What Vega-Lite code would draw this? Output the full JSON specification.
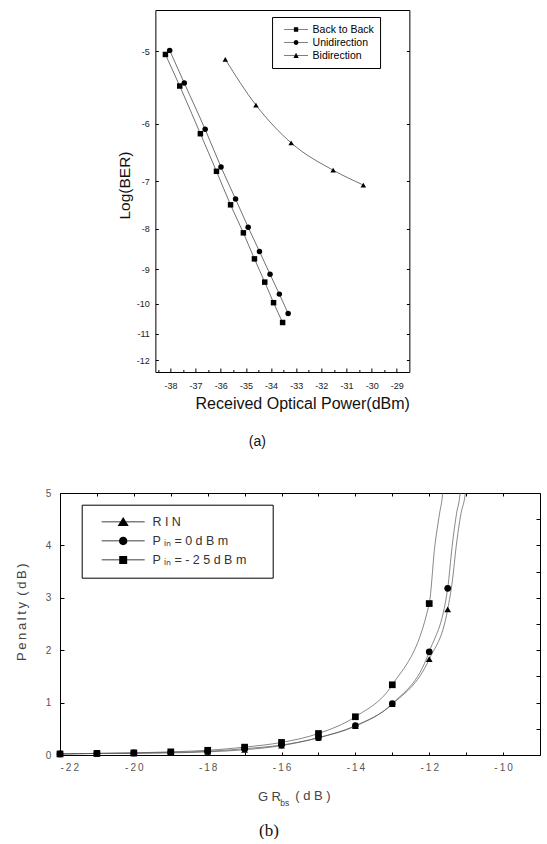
{
  "$schema": "https://vega.github.io/schema/vega-lite/v6.json",
  "background": "white",
  "padding": {"left": 14, "top": 9, "right": 0, "bottom": 0},
  "spacing": 37,
  "center": true,
  "config": {
    "font": "Liberation Sans",
    "view": {"stroke": "black", "strokeWidth": 1},
    "axis": {"grid": false, "domain": false, "tickColor": "black", "labelColor": "#222", "titleFontWeight": "normal", "titleColor": "#111"},
    "legend": {"titleFontWeight": "normal"},
    "locale": {"number": {"decimal": ".", "thousands": ",", "grouping": [3], "currency": ["$", ""], "minus": "-"}}
  },
  "vconcat": [
    {
      "width": 254,
      "height": 362,
      "title": {"text": "(a)", "orient": "bottom", "anchor": "middle", "frame": "group", "dx": -25, "offset": 24, "fontSize": 14, "fontWeight": "normal", "font": "Liberation Sans", "color": "#111"},
      "data": {"values": [
        {"series": "Back to Back", "power": -38.20, "logber": -5.04},
        {"series": "Back to Back", "power": -37.63, "logber": -5.45},
        {"series": "Back to Back", "power": -36.81, "logber": -6.16},
        {"series": "Back to Back", "power": -36.17, "logber": -6.81},
        {"series": "Back to Back", "power": -35.61, "logber": -7.47},
        {"series": "Back to Back", "power": -35.10, "logber": -8.09},
        {"series": "Back to Back", "power": -34.66, "logber": -8.73},
        {"series": "Back to Back", "power": -34.25, "logber": -9.36},
        {"series": "Back to Back", "power": -33.90, "logber": -9.97},
        {"series": "Back to Back", "power": -33.54, "logber": -10.61},
        {"series": "Unidirection", "power": -38.03, "logber": -4.99},
        {"series": "Unidirection", "power": -37.45, "logber": -5.41},
        {"series": "Unidirection", "power": -36.62, "logber": -6.09},
        {"series": "Unidirection", "power": -35.99, "logber": -6.73},
        {"series": "Unidirection", "power": -35.41, "logber": -7.35},
        {"series": "Unidirection", "power": -34.91, "logber": -7.96},
        {"series": "Unidirection", "power": -34.46, "logber": -8.54},
        {"series": "Unidirection", "power": -34.04, "logber": -9.14},
        {"series": "Unidirection", "power": -33.67, "logber": -9.71},
        {"series": "Unidirection", "power": -33.32, "logber": -10.31},
        {"series": "Bidirection", "power": -35.82, "logber": -5.10},
        {"series": "Bidirection", "power": -34.60, "logber": -5.72},
        {"series": "Bidirection", "power": -33.20, "logber": -6.31},
        {"series": "Bidirection", "power": -31.53, "logber": -6.79},
        {"series": "Bidirection", "power": -30.33, "logber": -7.07}
      ]},
      "layer": [
        {
          "mark": {"type": "line", "color": "#333", "strokeWidth": 0.7, "interpolate": "monotone"},
          "encoding": {
            "x": {"field": "power", "type": "quantitative",
              "scale": {"domain": [-38.6, -28.5], "nice": false, "zero": false},
              "axis": {
                "values": [-38.5, -38, -37.5, -37, -36.5, -36, -35.5, -35, -34.5, -34, -33.5, -33, -32.5, -32, -31.5, -31, -30.5, -30, -29.5, -29],
                "labelExpr": "datum.value % 1 == 0 ? format(datum.value, 'd') : ''",
                "labelOverlap": false,
                "tickSize": {"condition": {"test": "datum.value % 1 == 0", "value": -4}, "value": -2.5},
                "labelPadding": 13, "labelFontSize": 9,
                "title": "Received Optical Power(dBm)", "titleFontSize": 16,
                "titleAlign": "right", "titleX": 254, "titleY": 23, "titleBaseline": "top"
              }
            },
            "y": {"field": "logber", "type": "quantitative",
              "scale": {"type": "pow", "exponent": -0.35, "domain": [-12.47, -4.53], "nice": false, "zero": false},
              "axis": {
                "values": [-5, -6, -7, -8, -9, -10, -11, -12],
                "format": "d",
                "tickSize": -3, "labelPadding": 9, "labelFontSize": 9,
                "title": "Log(BER)", "titleFontSize": 15.5,
                "titleX": -25.5, "titleY": 175, "titleBaseline": "alphabetic"
              }
            },
            "detail": {"field": "series"}
          }
        },
        {
          "mark": {"type": "point", "filled": true, "color": "black", "size": 30, "opacity": 1},
          "encoding": {
            "x": {"field": "power", "type": "quantitative",
              "axis": {"orient": "top", "ticks": false, "labels": false, "title": ".", "titleOpacity": 0, "titleX": 287, "titleY": 100, "titleAlign": "left", "titleFontSize": 10}},
            "y": {"field": "logber", "type": "quantitative",
              "axis": {"orient": "right", "values": [-5, -6, -7, -8, -9, -10, -11, -12], "tickSize": -3, "labels": false, "title": null}},
            "shape": {"field": "series", "type": "nominal",
              "scale": {"domain": ["Back to Back", "Unidirection", "Bidirection"], "range": ["square", "circle", "triangle-up"]},
              "legend": null}
          }
        },
        {
          "transform": [{"filter": "false"}],
          "mark": {"type": "point", "filled": true, "color": "black", "size": 576},
          "encoding": {
            "x": {"field": "power", "type": "quantitative", "axis": null},
            "y": {"field": "logber", "type": "quantitative", "axis": null},
            "shape": {"field": "series", "type": "nominal",
              "scale": {"domain": ["Back to Back", "Unidirection", "Bidirection"],
                "range": [
                  "M-1,-0.03H1V0.03H-1ZM-0.18,-0.18H0.18V0.18H-0.18Z",
                  "M-1,-0.03H1V0.03H-1ZM0.2,0A0.2,0.2,0,1,1,-0.2,0A0.2,0.2,0,1,1,0.2,0Z",
                  "M-1,-0.03H1V0.03H-1ZM0,-0.22L0.22,0.2H-0.22Z"
                ]},
              "legend": {
                "title": null, "orient": "none", "legendX": 116.7, "legendY": 7,
                "padding": 6, "strokeColor": "black", "fillColor": "white",
                "symbolOffset": 5, "labelOffset": 3.5, "clipHeight": 13, "rowPadding": 0,
                "labelFontSize": 10.5, "labelColor": "black",
                "symbolOpacity": 1, "symbolFillColor": "black", "symbolSize": 576
              }
            }
          }
        }
      ],
      "resolve": {"scale": {"shape": "independent"}, "axis": {"x": "independent", "y": "independent"}}
    },
    {
      "width": 480,
      "height": 262,
      "title": {"text": "(b)", "orient": "bottom", "anchor": "middle", "frame": "group", "dx": -31, "offset": 16, "fontSize": 17, "fontWeight": "normal", "font": "Liberation Serif", "color": "#111"},
      "data": {"values": [
        {"series": "RIN", "gr": -22, "penalty": 0.02, "marker": true},
        {"series": "RIN", "gr": -21, "penalty": 0.03, "marker": true},
        {"series": "RIN", "gr": -20, "penalty": 0.03, "marker": true},
        {"series": "RIN", "gr": -19, "penalty": 0.04, "marker": true},
        {"series": "RIN", "gr": -18, "penalty": 0.06, "marker": true},
        {"series": "RIN", "gr": -17, "penalty": 0.10, "marker": true},
        {"series": "RIN", "gr": -16, "penalty": 0.18, "marker": true},
        {"series": "RIN", "gr": -15, "penalty": 0.33, "marker": true},
        {"series": "RIN", "gr": -14, "penalty": 0.55, "marker": true},
        {"series": "RIN", "gr": -13, "penalty": 0.97, "marker": true},
        {"series": "RIN", "gr": -12, "penalty": 1.83, "marker": true},
        {"series": "RIN", "gr": -11.5, "penalty": 2.78, "marker": true},
        {"series": "RIN", "gr": -11.37, "penalty": 3.34, "marker": false},
        {"series": "RIN", "gr": -11.27, "penalty": 3.98, "marker": false},
        {"series": "RIN", "gr": -11.14, "penalty": 4.61, "marker": false},
        {"series": "RIN", "gr": -11.03, "penalty": 4.96, "marker": false},
        {"series": "RIN", "gr": -10.98, "penalty": 5.3, "marker": false},
        {"series": "Pin=0dBm", "gr": -22, "penalty": 0.02, "marker": true},
        {"series": "Pin=0dBm", "gr": -21, "penalty": 0.03, "marker": true},
        {"series": "Pin=0dBm", "gr": -20, "penalty": 0.04, "marker": true},
        {"series": "Pin=0dBm", "gr": -19, "penalty": 0.05, "marker": true},
        {"series": "Pin=0dBm", "gr": -18, "penalty": 0.07, "marker": true},
        {"series": "Pin=0dBm", "gr": -17, "penalty": 0.12, "marker": true},
        {"series": "Pin=0dBm", "gr": -16, "penalty": 0.19, "marker": true},
        {"series": "Pin=0dBm", "gr": -15, "penalty": 0.33, "marker": true},
        {"series": "Pin=0dBm", "gr": -14, "penalty": 0.56, "marker": true},
        {"series": "Pin=0dBm", "gr": -13, "penalty": 0.98, "marker": true},
        {"series": "Pin=0dBm", "gr": -12, "penalty": 1.97, "marker": true},
        {"series": "Pin=0dBm", "gr": -11.5, "penalty": 3.18, "marker": true},
        {"series": "Pin=0dBm", "gr": -11.38, "penalty": 3.98, "marker": false},
        {"series": "Pin=0dBm", "gr": -11.26, "penalty": 4.61, "marker": false},
        {"series": "Pin=0dBm", "gr": -11.17, "penalty": 4.96, "marker": false},
        {"series": "Pin=0dBm", "gr": -11.13, "penalty": 5.3, "marker": false},
        {"series": "Pin=-25dBm", "gr": -22, "penalty": 0.02, "marker": true},
        {"series": "Pin=-25dBm", "gr": -21, "penalty": 0.03, "marker": true},
        {"series": "Pin=-25dBm", "gr": -20, "penalty": 0.04, "marker": true},
        {"series": "Pin=-25dBm", "gr": -19, "penalty": 0.06, "marker": true},
        {"series": "Pin=-25dBm", "gr": -18, "penalty": 0.09, "marker": true},
        {"series": "Pin=-25dBm", "gr": -17, "penalty": 0.15, "marker": true},
        {"series": "Pin=-25dBm", "gr": -16, "penalty": 0.24, "marker": true},
        {"series": "Pin=-25dBm", "gr": -15, "penalty": 0.41, "marker": true},
        {"series": "Pin=-25dBm", "gr": -14, "penalty": 0.73, "marker": true},
        {"series": "Pin=-25dBm", "gr": -13, "penalty": 1.34, "marker": true},
        {"series": "Pin=-25dBm", "gr": -12, "penalty": 2.89, "marker": true},
        {"series": "Pin=-25dBm", "gr": -11.85, "penalty": 3.98, "marker": false},
        {"series": "Pin=-25dBm", "gr": -11.72, "penalty": 4.61, "marker": false},
        {"series": "Pin=-25dBm", "gr": -11.64, "penalty": 4.96, "marker": false},
        {"series": "Pin=-25dBm", "gr": -11.6, "penalty": 5.3, "marker": false}
      ]},
      "layer": [
        {
          "mark": {"type": "line", "color": "#555", "strokeWidth": 0.7, "interpolate": "monotone", "clip": true},
          "encoding": {
            "x": {"field": "gr", "type": "quantitative",
              "scale": {"domain": [-22, -9], "nice": false, "zero": false},
              "axis": {
                "values": [-22, -21, -20, -19, -18, -17, -16, -15, -14, -13, -12, -11, -10],
                "format": "d",
                "labelExpr": "datum.value % 2 == 0 ? replace(datum.label, regexp('([0-9])', 'g'), '\u2009$1') : ''",
                "tickSize": -3, "labelPadding": 10.5, "labelFontSize": 10, "labelColor": "#555",
                "title": "G R", "titleFontSize": 13, "titleColor": "#444",
                "titleAlign": "left", "titleX": 197.4, "titleY": 45, "titleBaseline": "alphabetic"
              }
            },
            "y": {"field": "penalty", "type": "quantitative",
              "scale": {"domain": [0, 5], "nice": false, "zero": false},
              "axis": {
                "values": [0, 0.5, 1, 1.5, 2, 2.5, 3, 3.5, 4, 4.5, 5],
                "format": "d",
                "labelExpr": "datum.value % 1 == 0 ? datum.label : ''",
                "tickSize": -4, "labelPadding": 13.3, "labelFontSize": 10, "labelColor": "#555",
                "title": "P\u2009e\u2009n\u2009a\u2009l\u2009t\u2009y\u2009 (\u2009d\u2009B\u2009)", "titleFontSize": 13, "titleColor": "#444",
                "titleX": -34.8, "titleY": 118.7, "titleBaseline": "alphabetic"
              }
            },
            "detail": {"field": "series"}
          }
        },
        {
          "transform": [{"filter": "datum.marker"}],
          "mark": {"type": "point", "filled": true, "color": "black", "size": 45, "opacity": 1},
          "encoding": {
            "x": {"field": "gr", "type": "quantitative",
              "axis": {"orient": "top", "values": [-22, -21, -20, -19, -18, -17, -16, -15, -14, -13, -12, -11, -10], "tickSize": -3, "labels": false,
                "title": "bs", "titleFontSize": 8.5, "titleColor": "#444", "titleX": 224.2, "titleY": 312, "titleAlign": "center", "titleBaseline": "alphabetic", "titleAngle": 0}},
            "y": {"field": "penalty", "type": "quantitative",
              "axis": {"orient": "right", "values": [0, 0.5, 1, 1.5, 2, 2.5, 3, 3.5, 4, 4.5, 5], "tickSize": -4, "labels": false, "title": null}},
            "shape": {"field": "series", "type": "nominal",
              "scale": {"domain": ["RIN", "Pin=0dBm", "Pin=-25dBm"], "range": ["triangle-up", "circle", "square"]},
              "legend": null}
          }
        },
        {
          "transform": [{"filter": "false"}],
          "mark": {"type": "point", "filled": true, "color": "black", "size": 1849},
          "encoding": {
            "x": {"field": "gr", "type": "quantitative",
              "axis": {"orient": "top", "ticks": false, "labels": false, "domain": false,
                "title": "( d B )", "titleFontSize": 13, "titleColor": "#444", "titleX": 234.7, "titleY": 306.7, "titleAlign": "left", "titleBaseline": "alphabetic", "titleAngle": 0}},
            "y": {"field": "penalty", "type": "quantitative", "axis": null},
            "shape": {"field": "series", "type": "nominal",
              "scale": {"domain": ["RIN", "Pin=0dBm", "Pin=-25dBm"],
                "range": [
                  "M-1,-0.017H1V0.017H-1ZM0,-0.23L0.256,0.19H-0.256Z",
                  "M-1,-0.017H1V0.017H-1ZM0.195,0A0.195,0.195,0,1,1,-0.195,0A0.195,0.195,0,1,1,0.195,0Z",
                  "M-1,-0.017H1V0.017H-1ZM-0.185,-0.185H0.185V0.185H-0.185Z"
                ]},
              "legend": {
                "title": "M", "titleOrient": "right", "titleOpacity": 0, "titleFontSize": 12, "titlePadding": 8,
                "orient": "none", "legendX": 21.7, "legendY": 11.7,
                "padding": 8, "strokeColor": "black", "fillColor": "white",
                "symbolOffset": 11, "labelOffset": 6.7, "clipHeight": 18.5, "rowPadding": 0,
                "labelFontSize": 12.5, "labelColor": "#333",
                "labelExpr": "datum.label == 'RIN' ? 'R I N' : datum.label == 'Pin=0dBm' ? 'P \u1d62\u2099 = 0 d B m' : 'P \u1d62\u2099 = - 2 5 d B m'",
                "symbolOpacity": 1, "symbolFillColor": "black", "symbolSize": 1849
              }
            }
          }
        }
      ],
      "resolve": {"scale": {"shape": "independent"}, "axis": {"x": "independent", "y": "independent"}}
    }
  ]
}
